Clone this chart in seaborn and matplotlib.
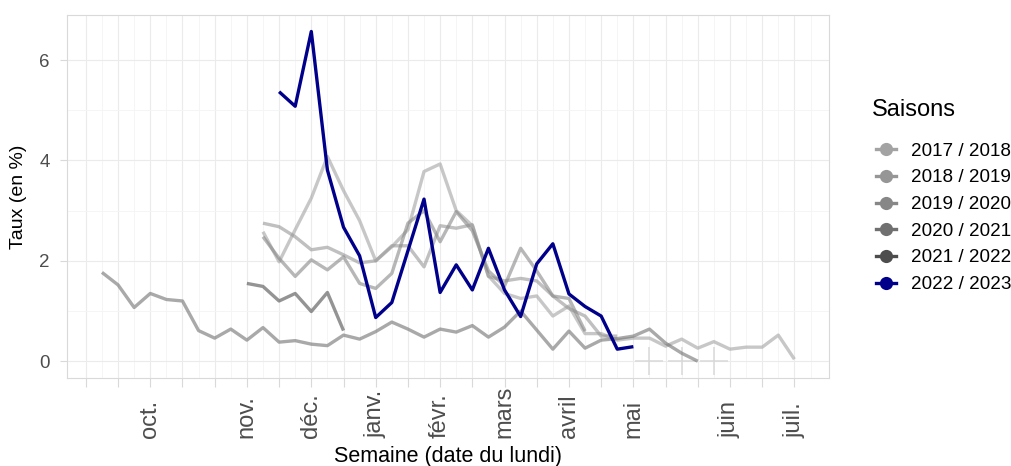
import numpy as np
import pandas as pd
import matplotlib
matplotlib.use("Agg")
import matplotlib.pyplot as plt
import seaborn as sns
from matplotlib.lines import Line2D


# ==========================================
# DATA (week index 0 = first tick, weekly values)
# ==========================================

seasons = ["2017 / 2018", "2018 / 2019", "2019 / 2020",
           "2020 / 2021", "2021 / 2022", "2022 / 2023"]

start_weeks = [11, 11, 11, 1, 10, 12]

taux_2017 = [2.58, 1.98, 2.62, 3.25, 4.08, 3.40, 2.80, 2.00, 2.28, 2.62,
             3.78, 3.93, 3.00, 2.70, 1.70, 1.35, 1.25, 1.30, 0.90, 1.10,
             0.55, 0.55, 0.42, 0.46, 0.46, 0.30, 0.44, 0.26, 0.39, 0.24,
             0.28, 0.28, 0.52, 0.04]
taux_2018 = [2.75, 2.68, 2.48, 2.22, 2.27, 2.12, 1.96, 2.00, 2.30, 2.30,
             1.88, 2.70, 2.65, 2.72, 1.69, 1.60, 1.65, 1.60, 1.30, 1.05,
             0.90, 0.50, 0.50]
taux_2019 = [2.48, 2.05, 1.69, 2.02, 1.82, 2.08, 1.55, 1.45, 1.75, 2.75,
             3.00, 2.38, 2.98, 2.60, 1.80, 1.50, 2.25, 1.80, 1.30, 1.25,
             0.60]
taux_2020 = [1.77, 1.52, 1.07, 1.35, 1.23, 1.20, 0.61, 0.46, 0.64, 0.42,
             0.67, 0.38, 0.41, 0.34, 0.31, 0.52, 0.44, 0.59, 0.78, 0.64,
             0.48, 0.64, 0.58, 0.71, 0.48, 0.68, 1.00, 0.62, 0.24, 0.60,
             0.26, 0.42, 0.45, 0.50, 0.64, 0.36, 0.16, 0.00]
taux_2021 = [1.55, 1.49, 1.20, 1.35, 0.99, 1.37, 0.61]
taux_2022 = [5.37, 5.08, 6.57, 3.81, 2.67, 2.10, 0.87, 1.17, 2.20, 3.23,
             1.37, 1.92, 1.42, 2.25, 1.42, 0.89, 1.94, 2.34, 1.34, 1.09,
             0.90, 0.24, 0.29]

# faint "+" marks sitting on the zero line
plus_weeks = [35, 37, 39]
plus_values = [0, 0, 0]

month_weeks = [4, 10, 14, 18, 22, 26, 30, 34, 40, 44]
month_labels = ["oct.", "nov.", "déc.", "janv.", "févr.",
                "mars", "avril", "mai", "juin", "juil."]

colors = ["#a3a3a3", "#969696", "#878787", "#707070", "#4d4d4d", "#00008b"]

# ==========================================
# LONG TABLE
# ==========================================

all_values = [taux_2017, taux_2018, taux_2019, taux_2020, taux_2021, taux_2022]
rows = []
for season, start, values in zip(seasons, start_weeks, all_values):
    for i, v in enumerate(values):
        rows.append({"Saison": season, "Semaine": start + i, "Taux": v})
df = pd.DataFrame(rows)

# ==========================================
# PLOT
# ==========================================

plt.rcParams["font.family"] = ["Liberation Sans", "DejaVu Sans"]

fig = plt.figure(figsize=(10.11, 4.66), dpi=100)
ax = fig.add_axes([0.0666, 0.1895, 0.7534, 0.7783])

palette = dict(zip(seasons, colors))
for season in seasons:
    sub = df[df["Saison"] == season]
    sns.lineplot(
        data=sub, x="Semaine", y="Taux",
        color=palette[season],
        alpha=1.0 if season == "2022 / 2023" else 0.6,
        linewidth=2.4,
        ax=ax,
        legend=False,
        solid_capstyle="butt",
        zorder=3 if season == "2022 / 2023" else 2,
    )

ax.scatter(plus_weeks, plus_values, marker="+", s=420, color="#d9d9d9",
           linewidths=1.1, zorder=1.5)

ax.set_xlim(-1.15, 46.15)
ax.set_ylim(-0.3285, 6.8985)

# grid
ax.set_xticks(np.arange(0, 45, 2))
ax.set_xticks(np.arange(1, 46, 2), minor=True)
ax.set_yticks([0, 2, 4, 6])
ax.set_yticks([1, 3, 5], minor=True)
ax.grid(which="major", color="#ebebeb", linewidth=0.8)
ax.grid(which="minor", color="#f4f4f4", linewidth=0.6)
ax.set_axisbelow(True)

tick_text = ["" for _ in range(0, 45, 2)]
for w, lab in zip(month_weeks, month_labels):
    tick_text[w // 2] = lab
ax.set_xticklabels(tick_text, rotation=90, va="bottom", ha="center",
                   fontsize=17, color="#4d4d4d")
ax.set_yticklabels(["0", "2", "4", "6"], fontsize=13.5, color="#4d4d4d")
ax.tick_params(axis="x", which="major", length=6.5, color="#d9d9d9",
               width=0.8, pad=37)
ax.tick_params(axis="x", which="minor", length=0)
ax.tick_params(axis="y", which="major", length=5, color="#d9d9d9",
               width=0.8, pad=7.5)
ax.tick_params(axis="y", which="minor", length=0)

for spine in ax.spines.values():
    spine.set_color("#d9d9d9")
    spine.set_linewidth(0.8)

ax.set_xlabel("Semaine (date du lundi)", fontsize=15.5, labelpad=6)
ax.set_ylabel("Taux (en %)", fontsize=14, labelpad=9)

# legend
handles = [
    Line2D([0], [0], color=c, marker="o", markersize=9.5, linewidth=2.4,
           markeredgewidth=0)
    for c in colors
]
fig.text(872 / 1011, 1 - 110 / 466, "Saisons", fontsize=17,
         ha="left", va="center")
leg = fig.legend(handles, seasons, loc="upper left",
                 bbox_to_anchor=(0.866, 0.694), frameon=False,
                 fontsize=13.6, handlelength=1.1,
                 labelspacing=0.5, handletextpad=0.8,
                 borderaxespad=0, borderpad=0)

fig.savefig("out.png", dpi=100)
